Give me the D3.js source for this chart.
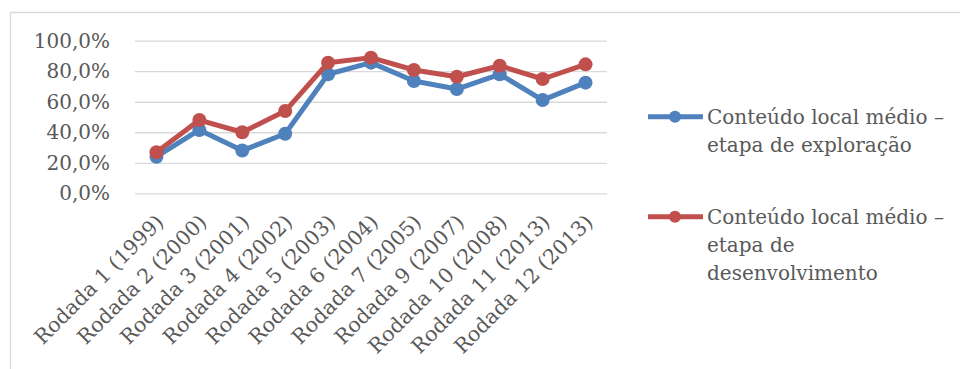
<!DOCTYPE html>
<html>
<head>
<meta charset="utf-8">
<script src="https://cdn.jsdelivr.net/npm/d3@7"></script>
<style>
  html, body { margin: 0; padding: 0; background: #fff; }
  svg { display: block; }
  text { font-family: "DejaVu Serif", serif; fill: #595959; }
</style>
</head>
<body>
<svg id="chart" width="960" height="369"></svg>
<script>
// Rounds of the bidding and average local content per stage
const categories = [
  "Rodada 1 (1999)", "Rodada 2 (2000)", "Rodada 3 (2001)", "Rodada 4 (2002)",
  "Rodada 5 (2003)", "Rodada 6 (2004)", "Rodada 7 (2005)", "Rodada 9 (2007)",
  "Rodada 10 (2008)", "Rodada 11 (2013)", "Rodada 12 (2013)"
];
const exploracao = [0.24, 0.415, 0.28, 0.39, 0.78, 0.856, 0.736, 0.683, 0.78, 0.611, 0.725];
const desenvolvimento = [0.269, 0.48, 0.40, 0.539, 0.856, 0.889, 0.808, 0.764, 0.836, 0.749, 0.845];
const yTicks = [0, 0.2, 0.4, 0.6, 0.8, 1.0];
const legendLines = [
  ["Conteúdo local médio –", "etapa de exploração"],
  ["Conteúdo local médio –", "etapa de", "desenvolvimento"]
];
const colors = ["#4F81BD", "#C0504D"];

const svg = d3.select("#chart");
const FONT = "DejaVu Serif";
const TEXT = "#595959";

// chart frame (left and top edges visible)
svg.append("line").attr("x1", 10.5).attr("x2", 10.5).attr("y1", 12.5).attr("y2", 369)
  .attr("stroke", "#d9d9d9").attr("stroke-width", 1.3);
svg.append("line").attr("x1", 10.5).attr("x2", 960).attr("y1", 12.5).attr("y2", 12.5)
  .attr("stroke", "#d9d9d9").attr("stroke-width", 1.3);

const x = d3.scalePoint().domain(categories).range([135, 607]).padding(0.5);
const y = d3.scaleLinear().domain([0, 1]).range([193.3, 40.7]);

const ptBR = d3.formatLocale({ decimal: ",", thousands: ".", grouping: [3], currency: ["R$", ""] });
const pct = ptBR.format(".1%");

// gridlines + y labels
const yAxis = d3.axisLeft(y).tickValues(yTicks).tickFormat(pct).tickSize(-(607 - 135)).tickPadding(25);
const gy = svg.append("g").attr("transform", "translate(135,0)").call(yAxis);
gy.select(".domain").remove();
gy.selectAll(".tick line").attr("stroke", "#d9d9d9").attr("stroke-width", 1.3);
gy.selectAll(".tick text").attr("font-size", 20).attr("font-family", FONT).attr("fill", TEXT);

// x labels, rotated
const xAxis = d3.axisBottom(x).tickSize(0).tickPadding(0);
const gx = svg.append("g").attr("transform", "translate(0,193.3)").call(xAxis);
gx.select(".domain").remove();
gx.selectAll(".tick text")
  .attr("font-size", 20.5).attr("font-family", FONT).attr("fill", TEXT)
  .attr("text-anchor", "end").attr("dy", null).attr("y", 0)
  .attr("transform", "translate(8,30) rotate(-45)");

// series
const line = d3.line().x((d, i) => x(categories[i])).y(d => y(d));
[exploracao, desenvolvimento].forEach((vals, s) => {
  const g = svg.append("g");
  g.append("path").datum(vals).attr("d", line).attr("fill", "none")
    .attr("stroke", colors[s]).attr("stroke-width", 5).attr("stroke-linejoin", "round");
  g.selectAll("circle").data(vals).join("circle")
    .attr("cx", (d, i) => x(categories[i])).attr("cy", d => y(d)).attr("r", 7)
    .attr("fill", colors[s]);
});

// legend
const legendY = [116.7, 216.7];
legendLines.forEach((lines, s) => {
  const g = svg.append("g").attr("transform", `translate(0,${legendY[s]})`);
  g.append("line").attr("x1", 648).attr("x2", 703).attr("y1", 0).attr("y2", 0)
    .attr("stroke", colors[s]).attr("stroke-width", 5);
  g.append("circle").attr("cx", 675).attr("cy", 0).attr("r", 6).attr("fill", colors[s]);
  const t = g.append("text").attr("x", 707).attr("y", 0).attr("font-size", 20).attr("font-family", FONT);
  lines.forEach((ln, k) => {
    t.append("tspan").attr("x", 707).attr("dy", k === 0 ? "0.36em" : 28).text(ln);
  });
});
</script>
</body>
</html>
